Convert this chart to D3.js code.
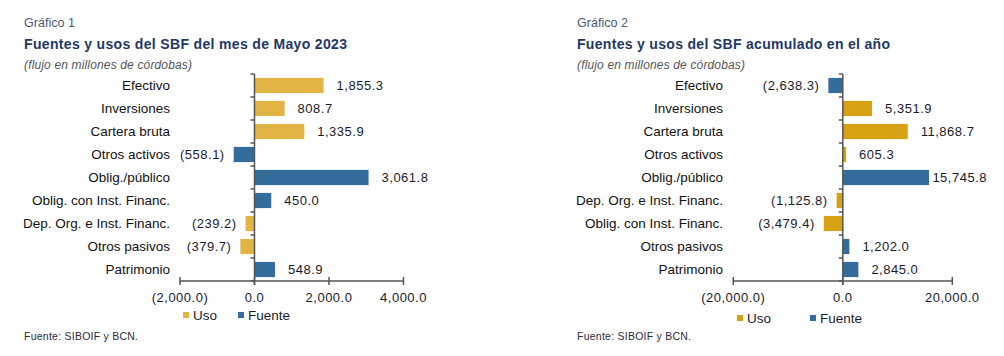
<!DOCTYPE html>
<html><head><meta charset="utf-8">
<script src="https://cdn.jsdelivr.net/npm/d3@7"></script>
<style>
body{margin:0;background:#fff;}
svg{display:block;}
text{font-family:"Liberation Sans",Arial,sans-serif;}
</style></head>
<body>
<svg id="c" width="1004" height="356"></svg>
<script>
// ---- Data ----
const categories1 = ["Efectivo","Inversiones","Cartera bruta","Otros activos","Oblig./público","Oblig. con Inst. Financ.","Dep. Org. e Inst. Financ.","Otros pasivos","Patrimonio"];
const uso1    = [1855.3, 808.7, 1335.9, null, null, null, -239.2, -379.7, null];
const fuente1 = [null, null, null, -558.1, 3061.8, 450.0, null, null, 548.9];
const ticks1  = [-2000, 0, 2000, 4000];

const categories2 = ["Efectivo","Inversiones","Cartera bruta","Otros activos","Oblig./público","Dep. Org. e Inst. Financ.","Oblig. con Inst. Financ.","Otros pasivos","Patrimonio"];
const uso2    = [null, 5351.9, 11868.7, 605.3, null, -1125.8, -3479.4, null, null];
const fuente2 = [-2638.3, null, null, null, 15745.8, null, null, 1202.0, 2845.0];
const ticks2  = [-20000, 0, 20000];

const seriesNames = ["Uso","Fuente"];

const svg = d3.select("#c");
const fmt = v => {
  const s = d3.format(",.1f")(Math.abs(v));
  return v < 0 ? "(" + s + ")" : s;
};

function drawChart(o){
  const g = svg.append("g");
  // headings
  g.append("text").attr("x", o.left).attr("y", 27).text(o.num)
    .attr("font-family","Lato, sans-serif").attr("font-size",12.5).attr("fill","#4a5a78")
    .attr("textLength", 51).attr("lengthAdjust","spacingAndGlyphs");
  g.append("text").attr("x", o.left).attr("y", 49).text(o.title)
    .attr("font-family","Lato, sans-serif").attr("font-weight","bold").attr("font-size",14).attr("fill","#1f3864")
    .attr("textLength", o.titleW).attr("lengthAdjust","spacing");
  g.append("text").attr("x", o.left).attr("y", 69).text("(flujo en millones de córdobas)")
    .attr("font-family","Lato, sans-serif").attr("font-style","italic").attr("font-size",12).attr("fill","#555")
    .attr("textLength", 168).attr("lengthAdjust","spacing");
  g.append("text").attr("x", o.left).attr("y", 340).text("Fuente: SIBOIF y BCN.")
    .attr("font-family","Lato, sans-serif").attr("font-size",10.5).attr("fill","#2a2a40")
    .attr("textLength", 114).attr("lengthAdjust","spacing");

  const x = d3.scaleLinear().domain(o.domain).range(o.xr);
  const y = d3.scaleBand().domain(o.cats).range([74, 281]).paddingInner(0.34).paddingOuter(0.17);
  const step = y.step();

  // bars
  const data = o.cats.map((c,i)=>({c, v: o.uso[i] != null ? o.uso[i] : o.fuente[i], s: o.uso[i] != null ? 0 : 1}));
  g.selectAll("rect.bar").data(data).join("rect").attr("class","bar")
    .attr("x", d => x(Math.min(0,d.v))).attr("width", d => Math.abs(x(d.v)-x(0)))
    .attr("y", d => y(d.c)).attr("height", y.bandwidth())
    .attr("fill", d => o.colors[d.s]);

  // axes
  const axc = "#555";
  g.append("line").attr("x1", o.xr[0]).attr("x2", o.xr[1]).attr("y1",281).attr("y2",281).attr("stroke",axc).attr("stroke-width",1.5);
  g.append("line").attr("x1", x(0)).attr("x2", x(0)).attr("y1",74).attr("y2",285).attr("stroke",axc).attr("stroke-width",1.5);
  // y ticks at band boundaries
  for (let i=0;i<=o.cats.length;i++){
    g.append("line").attr("x1", x(0)-4).attr("x2", x(0)).attr("y1", 74+i*step).attr("y2", 74+i*step).attr("stroke",axc).attr("stroke-width",1.5);
  }
  // x ticks
  g.selectAll("line.xt").data(o.ticks).join("line").attr("class","xt")
    .attr("x1", d=>x(d)).attr("x2", d=>x(d)).attr("y1", 277).attr("y2", 285).attr("stroke",axc).attr("stroke-width",1.5);
  g.selectAll("text.xl").data(o.ticks).join("text").attr("class","xl")
    .attr("x", d=>x(d)).attr("y", 297).attr("dy","0.35em").attr("text-anchor","middle")
    .attr("font-size",13).attr("letter-spacing",0.5).attr("fill","#1a1a2a").text(fmt);

  // category labels
  g.selectAll("text.cl").data(o.cats).join("text").attr("class","cl")
    .attr("x", o.labelX).attr("y", d=>y(d)+y.bandwidth()/2).attr("dy","0.35em").attr("text-anchor","end")
    .attr("font-size",13.5).attr("fill","#111").text(d=>d);

  // value labels
  g.selectAll("text.vl").data(data).join("text").attr("class","vl")
    .attr("y", d=>y(d.c)+y.bandwidth()/2).attr("dy","0.38em")
    .attr("font-size",13).attr("letter-spacing",0.5).attr("fill","#1a1a2a")
    .attr("text-anchor", d => d.v<0 ? "end" : "start")
    .text(d=>fmt(d.v))
    .each(function(d){
      const el = d3.select(this);
      if (d.v < 0) el.attr("x", x(d.v)-9);
      else {
        const w = this.getComputedTextLength();
        el.attr("x", Math.min(x(d.v)+13, o.maxRight - w));
      }
    });

  // legend
  seriesNames.forEach((n,i)=>{
    g.append("rect").attr("x", o.leg[i]).attr("y", o.legY-3).attr("width",6).attr("height",6).attr("fill",o.colors[i]);
    g.append("text").attr("x", o.leg[i]+10).attr("y", o.legY).attr("dy","0.35em").attr("font-size",13.5).attr("fill","#1a1a2a").text(n);
  });
}

drawChart({left:24, num:"Gráfico 1", title:"Fuentes y usos del SBF del mes de Mayo 2023", titleW:323,
  cats:categories1, uso:uso1, fuente:fuente1, ticks:ticks1, domain:[-2000,4000], xr:[180,403.5],
  labelX:170, colors:["#E1B443","#346D9B"], maxRight:440, leg:[183,238], legY:315});
drawChart({left:577, num:"Gráfico 2", title:"Fuentes y usos del SBF acumulado en el año", titleW:313,
  cats:categories2, uso:uso2, fuente:fuente2, ticks:ticks2, domain:[-20000,20000], xr:[733.3,952.3],
  labelX:723, colors:["#D6A214","#346D9B"], maxRight:987, leg:[737,810], legY:318});
</script>
</body></html>
